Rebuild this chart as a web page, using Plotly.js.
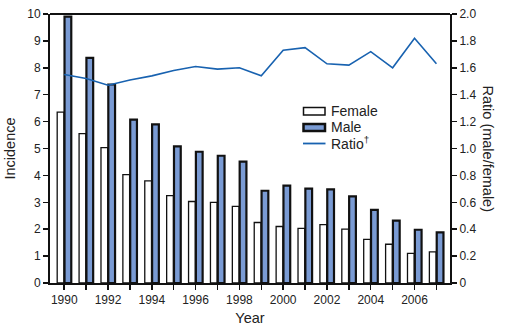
<!DOCTYPE html>
<html>
<head>
<meta charset="utf-8">
<script src="https://cdn.plot.ly/plotly-3.0.1.min.js"></script>
<style>html,body{margin:0;padding:0;background:#fff;}#chart{width:514px;height:327px;}</style>
</head>
<body>
<div id="chart"></div>
<script>
const years = [1990,1991,1992,1993,1994,1995,1996,1997,1998,1999,2000,2001,2002,2003,2004,2005,2006,2007];
const female = [6.35,5.55,5.03,4.03,3.80,3.25,3.03,3.00,2.85,2.25,2.10,2.03,2.17,2.00,1.62,1.44,1.10,1.16];
const male = [9.9,8.37,7.38,6.07,5.90,5.08,4.88,4.73,4.51,3.43,3.62,3.51,3.48,3.22,2.72,2.32,1.98,1.88];
const ratio = [1.55,1.52,1.47,1.51,1.54,1.58,1.61,1.59,1.60,1.54,1.73,1.75,1.63,1.62,1.72,1.60,1.82,1.63];
const xTickVals = [1990,1992,1994,1996,1998,2000,2002,2004,2006];
const xTickLabels = ['1990','1992','1994','1996','1998','2000','2002','2004','2006'];
const leftTicks = [0,1,2,3,4,5,6,7,8,9,10];
const rightTicks = [0,0.2,0.4,0.6,0.8,1.0,1.2,1.4,1.6,1.8,2.0];
const rightTickLabels = ['0','0.2','0.4','0.6','0.8','1.0','1.2','1.4','1.6','1.8','2.0'];
const legendLabels = ['Female','Male','Ratio<sup>\u2020</sup>'];

const font = 'Liberation Sans, Arial, sans-serif';
const maleColor = '#7a9bd4';
const lineColor = '#1862b0';
const traces = [
  {type:'bar', name:'Female', x:years, y:female,
   marker:{color:'#ffffff', line:{color:'#111111', width:1.3}}},
  {type:'bar', name:'Male', x:years, y:male,
   marker:{color:maleColor, line:{color:'#111111', width:2.2}}},
  {type:'scatter', mode:'lines', name:'Ratio', x:years, y:ratio, yaxis:'y2',
   line:{color:lineColor, width:1.6}}
];

// manual legend in paper coords (plot area: x 50..450, y 14..283)
const px = x => (x - 50) / 400;
const py = y => (283 - y) / 269;
const layout = {
  width:514, height:327,
  margin:{l:50, r:64, t:14, b:44},
  paper_bgcolor:'#fff', plot_bgcolor:'#fff',
  font:{family:font, size:12, color:'#222'},
  barmode:'group', bargap:0.33, bargroupgap:0.08,
  showlegend:false,
  xaxis:{range:[1989.35, 2007.62], tickmode:'array', tickvals:xTickVals, ticktext:xTickLabels,
         ticks:'outside', ticklen:5, tickwidth:1.5, tickcolor:'#111',
         minor:{tickmode:'array', tickvals:years, ticks:'outside', ticklen:5, tickwidth:1.5, tickcolor:'#111', showgrid:false},
         showline:true, linecolor:'#111', linewidth:2, mirror:false,
         showgrid:false, zeroline:false, tickfont:{size:12, color:'#222'},
         title:{text:'Year', font:{size:14.5, color:'#222'}, standoff:6}},
  yaxis:{range:[0,10], tickmode:'array', tickvals:leftTicks,
         ticks:'outside', ticklen:5, tickwidth:1.5, tickcolor:'#111',
         showline:true, linecolor:'#111', linewidth:2,
         showgrid:false, zeroline:false, tickfont:{size:12, color:'#222'},
         title:{text:'Incidence', font:{size:14.5, color:'#222'}, standoff:8}},
  yaxis2:{range:[0,2], overlaying:'y', side:'right', tickmode:'array', tickvals:rightTicks, ticktext:rightTickLabels,
          ticks:'outside', ticklen:5, tickwidth:1.5, tickcolor:'#111',
          showline:true, linecolor:'#111', linewidth:2,
          showgrid:false, zeroline:false, tickfont:{size:12, color:'#222'}},
  shapes:[
    {type:'line', xref:'paper', yref:'paper', x0:0, x1:1, y0:1, y1:1, line:{color:'#111', width:2}},
    {type:'rect', xref:'paper', yref:'paper', x0:px(303.5), x1:px(325), y0:py(115), y1:py(107.5), fillcolor:'#fff', line:{color:'#111', width:1.5}},
    {type:'rect', xref:'paper', yref:'paper', x0:px(303.5), x1:px(325), y0:py(131), y1:py(124), fillcolor:maleColor, line:{color:'#111', width:2.5}},
    {type:'line', xref:'paper', yref:'paper', x0:px(303), x1:px(325.5), y0:py(143.5), y1:py(143.5), line:{color:lineColor, width:1.8}}
  ],
  annotations:[
    {text:'Ratio (male/female)', xref:'paper', yref:'paper', x:1.095, y:0.5,
     textangle:90, showarrow:false, font:{size:14.5, color:'#222'}, xanchor:'center', yanchor:'middle'},
    {text:legendLabels[0], xref:'paper', yref:'paper', x:px(329), y:py(111), xanchor:'left', yanchor:'middle', showarrow:false, font:{size:14, color:'#222'}},
    {text:legendLabels[1], xref:'paper', yref:'paper', x:px(329), y:py(127.5), xanchor:'left', yanchor:'middle', showarrow:false, font:{size:14, color:'#222'}},
    {text:legendLabels[2], xref:'paper', yref:'paper', x:px(329), y:py(143), xanchor:'left', yanchor:'middle', showarrow:false, font:{size:14, color:'#222'}}
  ]
};
Plotly.newPlot('chart', traces, layout, {displayModeBar:false, staticPlot:true});
</script>
</body>
</html>
